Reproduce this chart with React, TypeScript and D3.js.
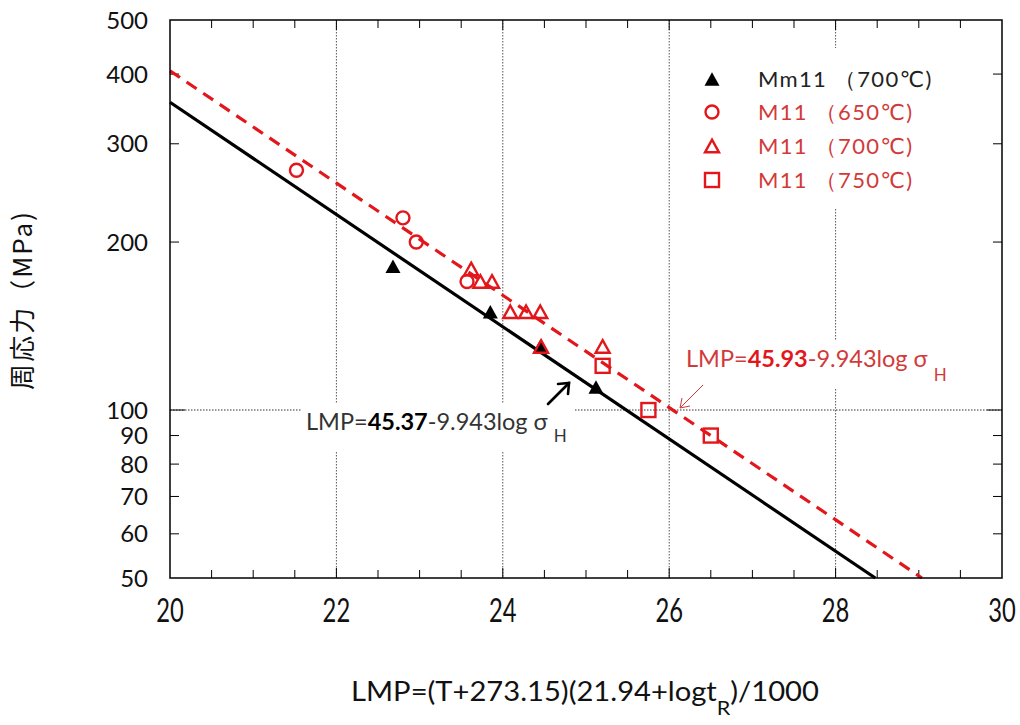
import React from "react";
import * as d3 from "d3";

// Creep rupture data: [LMP, stress (MPa)]
const mm11At700: [number, number][] = [
  [22.68, 181], [23.85, 150], [24.45, 130], [25.12, 110],
];
const m11At650: [number, number][] = [
  [21.52, 269], [22.8, 221], [22.96, 200], [23.57, 170],
];
const m11At700: [number, number][] = [
  [23.62, 179], [23.73, 170], [23.87, 170], [24.09, 150], [24.28, 150],
  [24.45, 150], [24.46, 130], [25.2, 130],
];
const m11At750: [number, number][] = [
  [25.2, 120], [25.75, 100], [26.5, 90],
];

// Fitted master curves: LMP = C - slope * log10(sigma)
const fitSlope = 9.943;
const cMm11 = 45.37;
const cM11 = 45.93;

const xTicks = [20, 22, 24, 26, 28, 30];
const xGrid = [22, 24, 26, 28];
const yTicks = [500, 400, 300, 200, 100, 90, 80, 70, 60, 50];
const legendLabels = ["Mm11\u00a0（700℃)", "M11\u00a0（650℃)", "M11\u00a0（700℃)", "M11\u00a0（750℃)"];

const W = 1020, H = 725;
const L = 170, R = 1002, T = 20, B = 578;
const RED = "#e3161b";
const RED_TEXT = "#d23a3a";
const FONT = "Lato, 'DejaVu Sans', sans-serif";

const x = d3.scaleLinear().domain([20, 30]).range([L, R]);
const y = d3.scaleLog().domain([50, 500]).range([B, T]);

function fitLine(c: number) {
  const sigmaAt20 = Math.pow(10, (c - 20) / fitSlope);
  const lmpAt50 = c - fitSlope * Math.log10(50);
  const pts: [number, number][] = [[20, sigmaAt20], [lmpAt50, 50]];
  return d3.line<[number, number]>().x((d) => x(d[0])).y((d) => y(d[1]))(pts) || "";
}

function triPath(cx: number, cy: number, s: number) {
  const h = s * 0.9;
  return `M${cx},${cy - h / 2}L${cx + s / 2},${cy + h / 2}L${cx - s / 2},${cy + h / 2}Z`;
}

function Marker({ kind, cx, cy }: { kind: string; cx: number; cy: number }) {
  if (kind === "filledTri") return <path d={triPath(cx, cy, 15)} fill="#000" />;
  if (kind === "circle") return <circle cx={cx} cy={cy} r={6.5} fill="none" stroke={RED} strokeWidth={2.4} />;
  if (kind === "openTri") return <path d={triPath(cx, cy, 14)} fill="none" stroke={RED} strokeWidth={2.4} />;
  return <rect x={cx - 7} y={cy - 7} width={14} height={14} fill="none" stroke={RED} strokeWidth={2.4} />;
}

export default function App() {
  const minorX = d3.range(20.5, 30, 0.5).filter((v) => Math.abs(v - Math.round(v / 2) * 2) > 1e-6);
  const series = [
    { kind: "filledTri", data: mm11At700 },
    { kind: "circle", data: m11At650 },
    { kind: "openTri", data: m11At700 },
    { kind: "square", data: m11At750 },
  ];
  const legendY = [79, 112, 146, 180];

  return (
    <svg width={W} height={H} style={{ position: "absolute", left: 0, top: 0, background: "#fff" }} fontFamily={FONT}>
      {/* grid */}
      {xGrid.map((v) => (
        <line key={v} x1={x(v)} x2={x(v)} y1={T} y2={B} stroke="#555" strokeWidth={1} strokeDasharray="1.5,1.5" />
      ))}
      <line x1={L} x2={R} y1={y(100)} y2={y(100)} stroke="#333" strokeWidth={1} strokeDasharray="1.5,1.5" />

      {/* boxes behind legend and labels */}
      <rect x={680} y={48} width={300} height={160} fill="#fff" />
      <rect x={302} y={403} width={272} height={48} fill="#fff" />
      <rect x={678} y={340} width={280} height={48} fill="#fff" />

      {/* ticks */}
      {minorX.map((v) => (
        <g key={v}>
          <line x1={x(v)} x2={x(v)} y1={B} y2={B - 8} stroke="#000" strokeWidth={1} />
          <line x1={x(v)} x2={x(v)} y1={T} y2={T + 8} stroke="#000" strokeWidth={1} />
        </g>
      ))}
      {xGrid.map((v) => (
        <g key={v}>
          <line x1={x(v)} x2={x(v)} y1={B} y2={B - 10} stroke="#000" strokeWidth={1} />
          <line x1={x(v)} x2={x(v)} y1={T} y2={T + 10} stroke="#000" strokeWidth={1} />
        </g>
      ))}
      {yTicks.filter((v) => v !== 500 && v !== 50).map((v) => (
        <g key={v}>
          <line x1={L} x2={L + (v === 100 ? 15 : 9)} y1={y(v)} y2={y(v)} stroke="#000" strokeWidth={1} />
          <line x1={R} x2={R - (v === 100 ? 15 : 9)} y1={y(v)} y2={y(v)} stroke="#000" strokeWidth={1} />
        </g>
      ))}

      {/* fitted lines */}
      <path d={fitLine(cMm11)} stroke="#000" strokeWidth={3.2} fill="none" />
      <path d={fitLine(cM11)} stroke={RED} strokeWidth={3.2} fill="none" strokeDasharray="12,8" />

      {/* data */}
      {series.map((s) =>
        s.data.map((d, i) => <Marker key={s.kind + i} kind={s.kind} cx={x(d[0])} cy={y(d[1])} />)
      )}

      {/* frame */}
      <rect x={L} y={T} width={R - L} height={B - T} fill="none" stroke="#000" strokeWidth={1.5} />

      {/* tick labels */}
      {xTicks.map((v) => (
        <text key={v} transform={`translate(${x(v)},622) scale(0.72,1)`} textAnchor="middle" fontSize={33} fill="#111">
          {v}
        </text>
      ))}
      {yTicks.map((v) => (
        <text key={v} x={148} y={y(v)} dy="0.36em" textAnchor="end" fontSize={24} fill="#111">
          {v}
        </text>
      ))}

      {/* axis titles */}
      <text transform="translate(585,701) scale(1.08,1)" textAnchor="middle" fontSize={27} fill="#111">
        LMP=(T+273.15)(21.94+logt<tspan fontSize={20} dy={14}>R</tspan><tspan dy={-14}>)/1000</tspan>
      </text>
      <text transform="translate(32,300) rotate(-90)" textAnchor="middle" fontSize={26} letterSpacing={2} fill="#111"
        fontFamily="'Noto Sans CJK JP', sans-serif">
        周応力（MPa)
      </text>

      {/* legend */}
      {legendLabels.map((lab, i) => (
        <g key={lab}>
          <Marker kind={series[i].kind} cx={712} cy={legendY[i]} />
          <text x={758} y={legendY[i]} dy="0.36em" fontSize={22} letterSpacing={1.3} fill={i === 0 ? "#222" : RED_TEXT}>
            {lab}
          </text>
        </g>
      ))}

      {/* equation labels */}
      <text x={306} y={430} fontSize={23.5} fill="#333">
        LMP=<tspan fontWeight="bold" fill="#000">{cMm11.toFixed(2)}</tspan>-{fitSlope}log σ
        <tspan fontSize={17} dx={6} dy={12}>H</tspan>
      </text>
      <text x={686} y={367} fontSize={23.5} fill={RED_TEXT}>
        LMP=<tspan fontWeight="bold" fill={RED}>{cM11.toFixed(2)}</tspan>-{fitSlope}log σ
        <tspan fontSize={17} dx={6} dy={14}>H</tspan>
      </text>

      {/* arrows */}
      <g stroke="#000" strokeWidth={2.6} fill="none" strokeLinecap="round">
        <line x1={548} y1={404} x2={569} y2={383} />
        <polyline points="558,384 569,383 568,394" />
      </g>
      <g stroke={RED_TEXT} strokeWidth={1} fill="none">
        <line x1={703} y1={385} x2={680} y2={408} />
        <polyline points="682,398 680,408 690,406" />
      </g>
    </svg>
  );
}
